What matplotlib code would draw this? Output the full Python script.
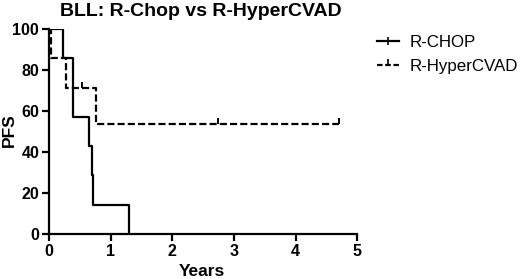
import matplotlib.pyplot as plt
from matplotlib.lines import Line2D

plt.rcParams['font.family'] = ['Liberation Sans', 'DejaVu Sans']

# Kaplan-Meier step data
chop_t = [0, 0.23, 0.39, 0.65, 0.70, 0.71, 1.30]
chop_s = [100, 85.7, 57.1, 42.9, 28.6, 14.3, 0]

hyper_t = [0, 0.03, 0.27, 0.77, 4.70]
hyper_s = [100, 85.7, 71.4, 53.6, 53.6]
hyper_cens_t = [0.53, 2.74, 4.70]
hyper_cens_s = [71.4, 53.6, 53.6]

x_ticks = [0, 1, 2, 3, 4, 5]
y_ticks = [0, 20, 40, 60, 80, 100]

fig = plt.figure(figsize=(5.2, 2.79), dpi=100)
ax = fig.add_axes([0.094, 0.162, 0.593, 0.734])

ax.step(chop_t, chop_s, where='post', color='black', lw=1.6)
ax.step(hyper_t, hyper_s, where='post', color='black', lw=1.6,
        linestyle=(0, (3.2, 1.4)))
ax.plot(hyper_cens_t, hyper_cens_s, linestyle='none', marker=2,
        color='black', markersize=4, markeredgewidth=1.4)

ax.set_xlim(0, 5)
ax.set_ylim(0, 100)
ax.set_xticks(x_ticks)
ax.set_yticks(y_ticks)
for s in ['top', 'right']:
    ax.spines[s].set_visible(False)
for s in ['left', 'bottom']:
    ax.spines[s].set_linewidth(1.6)
ax.tick_params(direction='out', length=5, width=1.6, pad=2)
for lab in ax.get_xticklabels() + ax.get_yticklabels():
    lab.set_fontsize(11.5)
    lab.set_fontweight('bold')

# axis labels and title placed in figure pixels
W, H = 520, 279
fig.text(202 / W, 1 - 271 / H, 'Years', ha='center', va='center',
         fontsize=12.5, fontweight='bold')
fig.text(9 / W, 1 - 130 / H, 'PFS', ha='center', va='center', rotation=90,
         fontsize=12.5, fontweight='bold')
fig.text(201 / W, 1 - 11 / H, 'BLL: R-Chop vs R-HyperCVAD', ha='center',
         va='center', fontsize=14, fontweight='bold')

handles = [
    Line2D([], [], color='black', lw=1.6, marker='|', markersize=6,
           markevery=[1], markeredgewidth=1.2),
    Line2D([], [], color='black', lw=1.6, linestyle=(0, (2.5, 1.2)),
           marker=2, markersize=4, markeredgewidth=1.2),
]
fig.legend(handles, ['R-CHOP', 'R-HyperCVAD'], loc='upper left',
           bbox_to_anchor=(377 / W, 1 - 35 / H), frameon=False, fontsize=12.2,
           borderpad=0, borderaxespad=0,
           handlelength=1.3, handletextpad=0.65, labelspacing=0.55)

fig.savefig('out.png', dpi=100)
